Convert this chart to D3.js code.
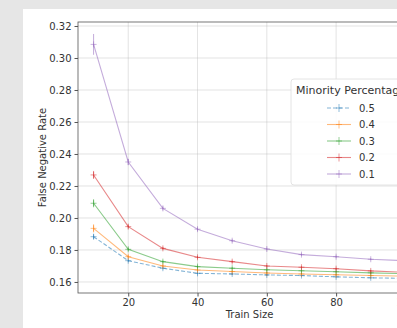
<!DOCTYPE html>
<html>
<head>
<meta charset="utf-8">
<script src="https://cdn.jsdelivr.net/npm/d3@7"></script>
<style>
  html, body { margin: 0; padding: 0; background: #e6e6e6; }
  svg { display: block; font-family: "DejaVu Sans", sans-serif; }
</style>
</head>
<body>
<svg id="chart" width="397" height="328"></svg>
<script>
// values
const trainSizes = [10, 20, 30, 40, 50, 60, 70, 80, 90, 100];
const minorityLabels = ['0.5', '0.4', '0.3', '0.2', '0.1'];
const fnr05 = [0.1883, 0.1733, 0.1686, 0.1654, 0.1650, 0.1644, 0.1640, 0.1632, 0.1626, 0.1622];
const fnr04 = [0.1935, 0.1758, 0.1700, 0.1675, 0.1665, 0.1656, 0.1650, 0.1645, 0.1640, 0.1636];
const fnr03 = [0.2092, 0.1804, 0.1727, 0.1696, 0.1686, 0.1676, 0.1670, 0.1664, 0.1657, 0.1652];
const fnr02 = [0.2269, 0.1946, 0.1810, 0.1754, 0.1727, 0.1700, 0.1692, 0.1683, 0.1669, 0.1660];
const fnr01 = [0.3085, 0.2350, 0.2060, 0.1930, 0.1858, 0.1806, 0.1771, 0.1758, 0.1742, 0.1733];
const err05 = [0.0015, 0.0008, 0.0007, 0.0006, 0.0006, 0.0005, 0.0005, 0.0005, 0.0005, 0.0005];
const err04 = [0.0025, 0.0010, 0.0008, 0.0007, 0.0006, 0.0006, 0.0005, 0.0005, 0.0005, 0.0005];
const err03 = [0.0025, 0.0010, 0.0008, 0.0007, 0.0006, 0.0006, 0.0005, 0.0005, 0.0005, 0.0005];
const err02 = [0.0025, 0.0012, 0.0009, 0.0008, 0.0007, 0.0006, 0.0006, 0.0006, 0.0005, 0.0005];
const err01 = [0.0065, 0.0020, 0.0012, 0.0010, 0.0009, 0.0008, 0.0007, 0.0007, 0.0006, 0.0006];
const yTicks = [0.16, 0.18, 0.20, 0.22, 0.24, 0.26, 0.28, 0.30, 0.32];
const xTicks = [20, 40, 60, 80, 100];

const series = [
  { label: minorityLabels[0], values: fnr05, err: err05, color: '#1f77b4', dash: '4 2' },
  { label: minorityLabels[1], values: fnr04, err: err04, color: '#ff7f0e', dash: null },
  { label: minorityLabels[2], values: fnr03, err: err03, color: '#2ca02c', dash: null },
  { label: minorityLabels[3], values: fnr02, err: err02, color: '#d62728', dash: null },
  { label: minorityLabels[4], values: fnr01, err: err01, color: '#9467bd', dash: null }
];

const svg = d3.select('#chart');
const W = 397, H = 328;
const pLeft = 78, pRight = 421, pTop = 22, pBottom = 293;

// white figure panel
svg.append('rect').attr('x', 23).attr('y', 9).attr('width', W - 23).attr('height', H - 9).attr('fill', '#fff');

const x = d3.scaleLinear().domain([5.5, 104.5]).range([pLeft, pRight]);
const y = d3.scaleLinear().domain([0.1531, 0.3225]).range([pBottom, pTop]);

svg.append('defs').append('clipPath').attr('id', 'plotClip')
  .append('rect').attr('x', pLeft).attr('y', pTop).attr('width', pRight - pLeft).attr('height', pBottom - pTop);

// grid
const grid = svg.append('g').attr('stroke', '#b0b0b0').attr('stroke-opacity', 0.45).attr('stroke-width', 0.8);
grid.selectAll('.gy').data(yTicks).join('line')
  .attr('x1', pLeft).attr('x2', pRight).attr('y1', d => y(d)).attr('y2', d => y(d));
grid.selectAll('.gx').data(xTicks).join('line')
  .attr('y1', pTop).attr('y2', pBottom).attr('x1', d => x(d)).attr('x2', d => x(d));

// axes
const yAxis = svg.append('g').attr('transform', `translate(${pLeft},0)`)
  .call(d3.axisLeft(y).tickValues(yTicks).tickFormat(d3.format('.2f')).tickSize(3.5).tickPadding(3));
const xAxis = svg.append('g').attr('transform', `translate(0,${pBottom})`)
  .call(d3.axisBottom(x).tickValues(xTicks).tickFormat(d3.format('d')).tickSize(3.5).tickPadding(2));
[yAxis, xAxis].forEach(a => {
  a.select('.domain').remove();
  a.selectAll('line').attr('stroke', '#555');
  a.selectAll('text').attr('font-size', 10).attr('fill', '#333').attr('font-family', '"DejaVu Sans", sans-serif');
});

// frame
svg.append('rect').attr('x', pLeft).attr('y', pTop).attr('width', pRight - pLeft).attr('height', pBottom - pTop)
  .attr('fill', 'none').attr('stroke', '#555').attr('stroke-width', 0.8);

// series
const plot = svg.append('g').attr('clip-path', 'url(#plotClip)');
const line = d3.line().x((d, i) => x(trainSizes[i])).y(d => y(d));

series.forEach(s => {
  const g = plot.append('g').attr('stroke', s.color).attr('stroke-opacity', 0.55).attr('fill', 'none');
  g.append('path').attr('d', line(s.values)).attr('stroke-width', 1.1)
    .attr('stroke-dasharray', s.dash);
  // error bars
  g.selectAll('line.err').data(s.values).join('line')
    .attr('x1', (d, i) => x(trainSizes[i])).attr('x2', (d, i) => x(trainSizes[i]))
    .attr('y1', (d, i) => y(d - s.err[i])).attr('y2', (d, i) => y(d + s.err[i]))
    .attr('stroke-width', 1);
  // + markers
  g.selectAll('path.mk').data(s.values).join('path')
    .attr('d', (d, i) => {
      const cx = x(trainSizes[i]), cy = y(d);
      return `M${cx - 3},${cy}H${cx + 3}M${cx},${cy - 3}V${cy + 3}`;
    })
    .attr('stroke-width', 0.9);
});

// axis labels
svg.append('text').attr('x', (pLeft + pRight) / 2).attr('y', 318).attr('text-anchor', 'middle')
  .attr('font-size', 10).attr('fill', '#333').text('Train Size');
svg.append('text').attr('transform', `translate(42,${(pTop + pBottom) / 2}) rotate(-90)`)
  .attr('text-anchor', 'middle').attr('dy', '0.35em')
  .attr('font-size', 10).attr('fill', '#333').text('False Negative Rate');

// legend
const lg = svg.append('g').attr('transform', 'translate(291,79)');
lg.append('rect').attr('width', 140).attr('height', 106).attr('rx', 3)
  .attr('fill', '#fff').attr('fill-opacity', 0.85).attr('stroke', '#ddd').attr('stroke-width', 0.8);
lg.append('text').attr('x', 5).attr('y', 14.5).attr('font-size', 11).attr('fill', '#333')
  .text('Minority Percentage');
series.forEach((s, i) => {
  const yy = 29 + i * 16.5;
  const e = lg.append('g').attr('stroke', s.color).attr('stroke-opacity', 0.55);
  e.append('line').attr('x1', 36).attr('x2', 60).attr('y1', yy).attr('y2', yy)
    .attr('stroke-width', 1.1).attr('stroke-dasharray', s.dash);
  e.append('path').attr('d', `M45,${yy}H51M48,${yy - 4}V${yy + 4}`).attr('stroke-width', 0.9);
  lg.append('text').attr('x', 68).attr('y', yy).attr('dy', '0.35em').attr('font-size', 10)
    .attr('fill', '#333').text(s.label);
});
</script>
</body>
</html>
